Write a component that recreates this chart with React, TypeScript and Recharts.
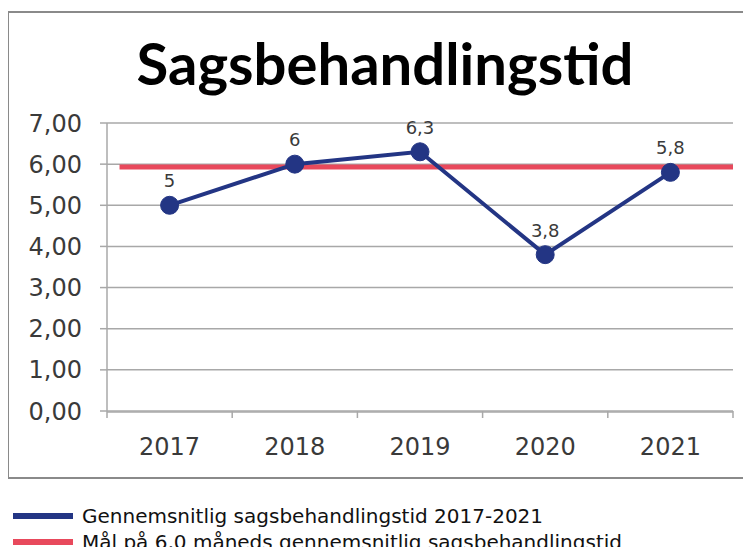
import React from "react";
import { LineChart, Line, XAxis, YAxis, CartesianGrid, LabelList } from "recharts";

const years = ["2017", "2018", "2019", "2020", "2021"];
const avgTime = [5, 6, 6.3, 3.8, 5.8];
const goalValue = 5.93;
const goalSpan = [0.1, 5];
const yTicks = [0, 1, 2, 3, 4, 5, 6, 7];
const boundaryTicks = [0, 1, 2, 3, 4, 5];
const seriesNames = [
  "Gennemsnitlig sagsbehandlingstid 2017-2021",
  "Mål på 6,0 måneds gennemsnitlig sagsbehandlingstid",
];

const NAVY = "#233584";
const RED = "#E8495C";
const TEXT = "#3a3a3a";
const GRID = "#a8a8a8";
const BORDER = "#8a8a8a";
const FONT = "'DejaVu Sans', sans-serif";

const data = years.map((y, i) => ({ year: y, avg: avgTime[i] }));
const goalData = goalSpan.map((x) => ({ x, goal: goalValue }));

const comma = (v: number) => String(v).replace(".", ",");

export default function App() {
  return (
    <div style={{ position: "relative", width: 751, height: 555, margin: -8, overflow: "hidden", background: "#fff" }}>
      <div
        style={{
          position: "absolute",
          left: 0,
          top: 34,
          width: 770,
          textAlign: "center",
          fontFamily: "Lato, sans-serif",
          fontWeight: 700,
          fontSize: 58,
          lineHeight: "58px",
          color: "#000",
        }}
      >
        Sagsbehandlingstid
      </div>
      <div style={{ position: "absolute", left: 0, top: 0 }}>
        <LineChart width={751} height={478} data={data} margin={{ top: 123, right: 18, bottom: 27, left: 0 }}>
          <CartesianGrid xAxisId="b" vertical={false} stroke={GRID} strokeWidth={1.5} />
          <XAxis
            xAxisId="a"
            type="number"
            dataKey="x"
            domain={[0, 5]}
            ticks={boundaryTicks}
            tick={() => <g />}
            axisLine={false}
            tickLine={{ stroke: GRID, strokeWidth: 1.5 }}
            height={1}
            tickSize={7}
          />
          <XAxis
            xAxisId="b"
            dataKey="year"
            scale="band"
            height={39}
            tickLine={false}
            tickSize={6}
            tickMargin={20}
            stroke={GRID}
            strokeWidth={1.5}
            tick={{ fill: TEXT, fontSize: 24, fontFamily: FONT }}
          />
          <YAxis
            width={107}
            domain={[0, 7]}
            ticks={yTicks}
            tickFormatter={(v: number) => v.toFixed(2).replace(".", ",")}
            tickSize={7}
            tickMargin={18}
            stroke={GRID}
            strokeWidth={1.5}
            tick={{ fill: TEXT, fontSize: 24, fontFamily: FONT }}
          />
          <Line
            xAxisId="a"
            data={goalData}
            dataKey="goal"
            stroke={RED}
            strokeWidth={5}
            dot={false}
            isAnimationActive={false}
          />
          <Line
            xAxisId="b"
            dataKey="avg"
            stroke={NAVY}
            strokeWidth={4}
            dot={{ r: 9, fill: NAVY, stroke: NAVY, strokeWidth: 1 }}
            isAnimationActive={false}
          >
            <LabelList
              dataKey="avg"
              position="top"
              offset={18}
              formatter={(v: any) => comma(v)}
              style={{ fill: TEXT, fontSize: 18, fontFamily: FONT }}
            />
          </Line>
        </LineChart>
      </div>
      <div style={{ position: "absolute", zIndex: 2, left: 6, top: 11, width: 760, height: 2, background: BORDER }} />
      <div style={{ position: "absolute", zIndex: 2, left: 6, top: 477, width: 760, height: 2, background: BORDER }} />
      <div style={{ position: "absolute", zIndex: 2, left: 7, top: 11, width: 2, height: 468, background: BORDER }} />
      {seriesNames.map((name, i) => (
        <div
          key={name}
          style={{
            position: "absolute",
            left: 13,
            top: 503 + i * 26,
            display: "flex",
            alignItems: "center",
            height: 26,
            fontFamily: FONT,
            fontSize: 20,
            color: "#111",
            whiteSpace: "nowrap",
          }}
        >
          <span style={{ display: "inline-block", width: 60, height: 6, background: i === 0 ? NAVY : RED, marginRight: 9 }} />
          {name}
        </div>
      ))}
    </div>
  );
}
